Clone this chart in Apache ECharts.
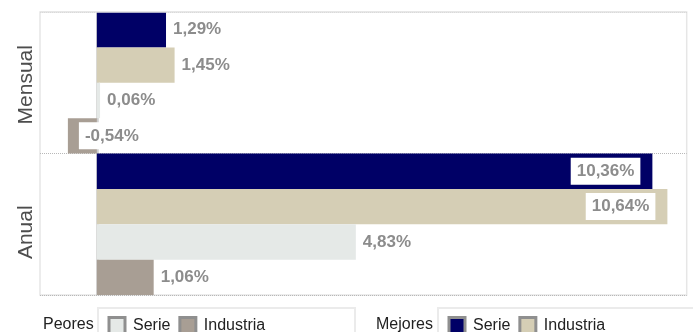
<!DOCTYPE html>
<html>
<head>
<meta charset="utf-8">
<script src="https://cdn.jsdelivr.net/npm/echarts@6/dist/echarts.min.js"></script>
<style>
  html, body { margin: 0; padding: 0; background: #ffffff; }
  #chart { width: 693px; height: 332px; }
</style>
</head>
<body>
<div id="chart"></div>
<script>
// Rentabilidad: mejores y peores de la serie frente a la industria
var categories = ['Mensual', 'Anual'];
var serieMejores = [1.29, 10.36];
var industriaMejores = [1.45, 10.64];
var seriePeores = [0.06, 4.83];
var industriaPeores = [-0.54, 1.06];

var FONT = '"Liberation Sans", Arial, Helvetica, sans-serif';

function pct(v) {
  return v.toFixed(2).replace('.', ',') + '%';
}

// Etiqueta dentro de la barra cuando es larga, fuera cuando es corta
function labelFor(v) {
  if (v < 0) return { position: 'insideLeft', distance: 11 };
  if (v > 9) return { position: 'insideRight', distance: 12 };
  return { position: 'right', distance: 1 };
}

function items(values) {
  return values.map(function (v) {
    return { value: v, label: labelFor(v) };
  });
}

var baseLabel = {
  show: true,
  formatter: function (p) { return pct(p.value); },
  color: '#8c8c8c',
  fontFamily: FONT,
  fontWeight: 'bold',
  fontSize: 17,
  lineHeight: 17,
  backgroundColor: '#ffffff',
  padding: [5, 6]
};

function barSeries(name, values, color) {
  return {
    name: name,
    type: 'bar',
    z: 3,
    data: items(values),
    barGap: '0%',
    barCategoryGap: '0%',
    itemStyle: { color: color },
    label: baseLabel,
    emphasis: { disabled: true }
  };
}

var series = [
  barSeries('Serie (Mejores)', serieMejores, '#000066'),
  barSeries('Industria (Mejores)', industriaMejores, '#d5ceb5'),
  barSeries('Serie (Peores)', seriePeores, '#e5e9e7'),
  barSeries('Industria (Peores)', industriaPeores, '#a89e94')
];

// línea del cero, por debajo de barras y etiquetas
series[0].markLine = {
  silent: true,
  z: 1,
  symbol: 'none',
  label: { show: false },
  lineStyle: { color: '#cfcfcf', width: 2.5, type: 'solid' },
  data: [{ xAxis: 0 }]
};

function legendName(n) { return n.replace(/ \(.*\)$/, ''); }

var legendCommon = {
  orient: 'horizontal',
  top: 316,
  padding: 0,
  itemWidth: 16,
  itemHeight: 16,
  itemGap: 8,
  icon: 'rect',
  selectedMode: false,
  itemStyle: { borderColor: '#8f8f8f', borderWidth: 3 },
  formatter: legendName,
  textStyle: { fontFamily: FONT, fontSize: 16, color: '#222222', padding: [0, 0, 0, 3] }
};

var axisFont = { fontFamily: FONT, fontSize: 21, color: '#4d4d4d' };

var chart = echarts.init(document.getElementById('chart'), null, { renderer: 'canvas' });

chart.setOption({
  animation: false,
  backgroundColor: '#ffffff',
  textStyle: { fontFamily: FONT },
  grid: {
    left: 40, right: 6.3, top: 12, bottom: 37,
    show: true,
    borderColor: '#e6e6e6',
    borderWidth: 1.5,
    containLabel: false
  },
  xAxis: {
    type: 'value',
    min: -1.06,
    max: 11,
    axisLine: { show: false },
    axisTick: { show: false },
    axisLabel: { show: false },
    splitLine: { show: false }
  },
  yAxis: {
    type: 'category',
    inverse: true,
    data: categories,
    axisLine: { show: false },
    axisTick: { show: false },
    splitLine: {
      show: true,
      lineStyle: { color: '#b8b8b8', type: 'dotted', width: 1 }
    },
    axisLabel: Object.assign({
      rotate: 90,
      margin: 3,
      interval: 0,
      formatter: function (v) { return '{' + (v === 'Anual' ? 'b' : 'a') + '|' + v + '}'; },
      rich: {
        a: Object.assign({ padding: [0, 4, 0, 0] }, axisFont),
        b: Object.assign({ padding: [0, 16, 0, 0] }, axisFont)
      }
    }, axisFont)
  },
  legend: [
    Object.assign({}, legendCommon, { left: 107.5, data: ['Serie (Peores)', 'Industria (Peores)'] }),
    Object.assign({}, legendCommon, { left: 447.5, data: ['Serie (Mejores)', 'Industria (Mejores)'] })
  ],
  graphic: [
    // borde superior continuo del área de trazado
    {
      type: 'line', z: 10, silent: true,
      shape: { x1: 40, y1: 12, x2: 686.7, y2: 12 },
      style: { stroke: '#e6e6e6', lineWidth: 1.5 }
    },
    {
      type: 'rect', z: 0, silent: true,
      shape: { x: 98, y: 308, width: 257, height: 40 },
      style: { fill: 'none', stroke: '#ebebeb', lineWidth: 2 }
    },
    {
      type: 'rect', z: 0, silent: true,
      shape: { x: 438, y: 308, width: 257, height: 40 },
      style: { fill: 'none', stroke: '#ebebeb', lineWidth: 2 }
    },
    {
      type: 'text', left: 43, top: 317, silent: true,
      style: { text: 'Peores', font: '16px ' + FONT, fill: '#222222' }
    },
    {
      type: 'text', left: 376, top: 317, silent: true,
      style: { text: 'Mejores', font: '16px ' + FONT, fill: '#222222' }
    }
  ],
  series: series
});
</script>
</body>
</html>
